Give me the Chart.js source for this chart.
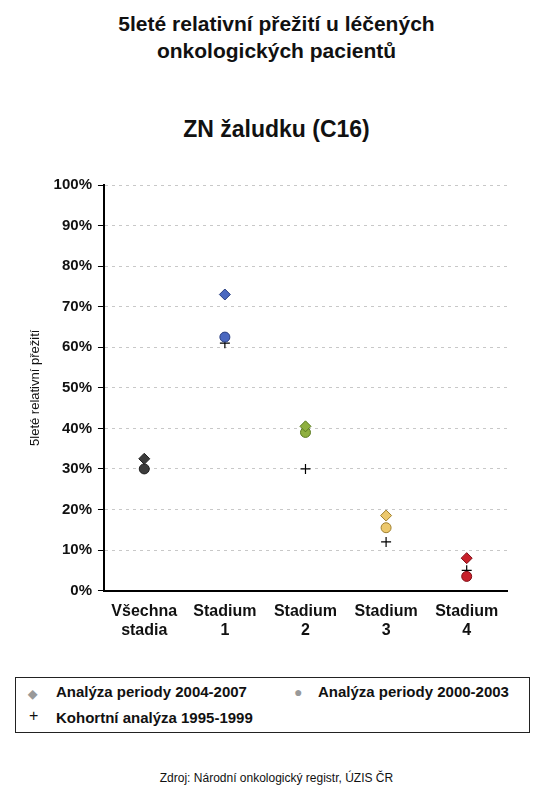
<!DOCTYPE html>
<html><head><meta charset="utf-8">
<script src="https://cdn.jsdelivr.net/npm/chart.js"></script>
<style>
body{margin:0;width:553px;height:800px;background:#fff;font-family:Arial,"Liberation Sans",sans-serif;position:relative;overflow:hidden}
.t{position:absolute;left:0;width:553px;text-align:center;font-weight:bold;color:#111}
#wrap{position:absolute;left:0;top:170px;width:553px;height:490px}
#leg{position:absolute;left:15px;top:677px;width:513px;height:54px;border:1px solid #222;font-weight:bold;font-size:15px;color:#111}
#leg div{position:absolute;white-space:nowrap}
</style></head><body>
<div class="t" style="top:10px;font-size:21px;line-height:27px">5leté relativní přežití u léčených<br>onkologických pacientů</div>
<div class="t" style="top:116px;font-size:23px">ZN žaludku (C16)</div>
<div id="wrap"><canvas id="c"></canvas></div>
<div id="leg">
<div style="left:12px;top:6px"><span style="color:#999;font-size:12px">◆</span></div>
<div style="left:40px;top:5px">Analýza periody 2004-2007</div>
<div style="left:278px;top:5px"><span style="color:#999;font-size:14px">●</span></div>
<div style="left:302px;top:5px">Analýza periody 2000-2003</div>
<div style="left:13px;top:29px;font-weight:normal;font-size:16px">+</div>
<div style="left:40px;top:31px">Kohortní analýza 1995-1999</div>
</div>
<div class="t" style="top:771px;font-size:12px;font-weight:normal">Zdroj: Národní onkologický registr, ÚZIS ČR</div>
<script>
const categories=[["Všechna","stadia"],["Stadium","1"],["Stadium","2"],["Stadium","3"],["Stadium","4"]];
const period2004_2007=[32.5,73,40.5,18.5,8];
const period2000_2003=[30,62.5,39,15.5,3.5];
const cohort1995_1999=[30,61,30,12,5];
const yTicks=[0,10,20,30,40,50,60,70,80,90,100];
const fill=["#3c3c3c","#4a68c0","#8fb040","#ecc86c","#c8202a"];
const edge=["#222","#2a3f80","#5a7a20","#a08030","#801018"];
new Chart(document.getElementById('c'),{type:'line',
data:{labels:categories,datasets:[
{label:'Analýza periody 2004-2007',data:period2004_2007,showLine:false,pointStyle:'rectRot',pointRadius:5.5,backgroundColor:fill,borderColor:edge,borderWidth:1},
{label:'Analýza periody 2000-2003',data:period2000_2003,showLine:false,pointStyle:'circle',pointRadius:5,backgroundColor:fill,borderColor:edge,borderWidth:1},
{label:'Kohortní analýza 1995-1999',data:cohort1995_1999,showLine:false,pointStyle:'cross',pointRadius:5,borderColor:'#000',borderWidth:1.2}
]},
options:{responsive:true,maintainAspectRatio:false,animation:false,
layout:{padding:{top:15,right:46,left:24,bottom:17}},
plugins:{legend:{display:false},tooltip:{enabled:false}},
scales:{
x:{offset:true,grid:{display:false},border:{color:'#000',width:2},ticks:{color:'#111',font:{size:16,weight:'bold',family:'Arial'},maxRotation:0}},
y:{min:0,max:100,afterBuildTicks:a=>{a.ticks=yTicks.map(v=>({value:v}))},
ticks:{color:'#111',font:{size:15,weight:'bold',family:'Arial'},callback:v=>v+'%',padding:6},
grid:{color:c=>c.tick.value===0?'rgba(0,0,0,0)':'#c8c8c8',drawTicks:true,tickLength:6,tickColor:'#000'},
border:{color:'#000',width:2,dash:[3,4]},
title:{display:true,text:'5leté relativní přežití',color:'#111',font:{size:13,family:'Arial'}}}
}}});
</script></body></html>
